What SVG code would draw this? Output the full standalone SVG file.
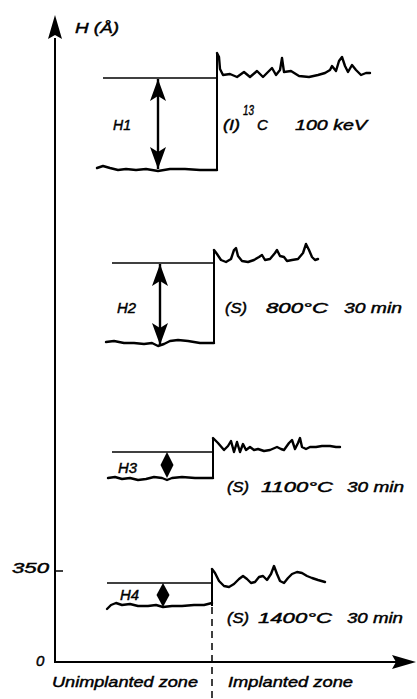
<svg xmlns="http://www.w3.org/2000/svg" width="417" height="699" viewBox="0 0 417 699">
<defs>
<marker id="dh" viewBox="0 0 22 16" refX="22" refY="8" markerWidth="22" markerHeight="16" markerUnits="userSpaceOnUse" orient="auto-start-reverse">
<path d="M0,0 L22,8 L0,16 L5,8 Z" fill="#000"/>
</marker>
</defs>
<style>
text{font-family:"Liberation Sans","DejaVu Sans",sans-serif;font-style:italic;font-size:15px;fill:#000;stroke:#000;stroke-width:0.45}
.thin{stroke:#000;stroke-width:1.3;fill:none}
.step{stroke:#000;stroke-width:2;fill:none}
.rough{stroke:#000;stroke-width:2.4;fill:none;stroke-linejoin:round;stroke-linecap:round}
.dim{stroke:#000;stroke-width:2.4;fill:none}
.diam{fill:#000}
</style>

<g id="axes">
<line x1="55" y1="663" x2="55" y2="38" stroke="#000" stroke-width="2"/>
<path d="M55,15 L62,39 L55,35 L48,39 Z" fill="#000"/>
<line x1="54" y1="662" x2="396" y2="662" stroke="#000" stroke-width="2"/>
<path d="M416,662 L392,655 L396,662 L392,669 Z" fill="#000"/>
<line x1="55" y1="571" x2="63" y2="571" stroke="#000" stroke-width="1.5"/>
<line x1="212" y1="607" x2="212" y2="699" stroke="#000" stroke-width="1.5" stroke-dasharray="7,5"/>
<text x="75" y="33" font-size="13" textLength="44" lengthAdjust="spacingAndGlyphs">H (Å)</text>
<text x="12" y="573" textLength="37" lengthAdjust="spacingAndGlyphs">350</text>
<text x="36" y="666">0</text>
<text x="52" y="687" textLength="146" lengthAdjust="spacingAndGlyphs">Unimplanted zone</text>
<text x="228" y="687" textLength="125" lengthAdjust="spacingAndGlyphs">Implanted zone</text>
</g>

<g id="profile-h1">
<line class="thin" x1="103" y1="78" x2="217" y2="78"/>
<path class="step" d="M217,170 L217,53"/>
<path class="rough" d="M217,53 L219,57 L220,69 L223,75 L230,74 L237,77 L244,72 L250,77 L257,71 L263,77 L268,72 L272,68 L276,75 L280,70 L282,58 L284,72 L291,71 L299,76 L309,77 L318,75 L325,73 L330,70 L332,66 L336,71 L339,61 L342,57 L345,66 L348,72 L352,65 L356,70 L361,75 L366,73 L370,73"/>
<path class="rough" d="M97,168 L103,166 L110,168 L118,170 L126,169 L136,170 L146,169 L158,171 L170,169 L185,169 L200,170 L217,170"/>
<line class="dim" x1="158" y1="79" x2="158" y2="169" marker-start="url(#dh)" marker-end="url(#dh)"/>
<text x="113" y="130" textLength="18" lengthAdjust="spacingAndGlyphs">H1</text>
<text x="223" y="130" textLength="17" lengthAdjust="spacingAndGlyphs">(I)</text>
<text x="243" y="115" font-size="10" textLength="11" lengthAdjust="spacingAndGlyphs">13</text>
<text x="257" y="130">C</text>
<text x="295" y="130" textLength="72" lengthAdjust="spacingAndGlyphs">100 keV</text>
</g>

<g id="profile-h2">
<line class="thin" x1="112" y1="263" x2="214" y2="263"/>
<path class="step" d="M214,343 L214,250"/>
<path class="rough" d="M214,250 L217,254 L221,260 L226,262 L231,259 L234,250 L236,248 L238,256 L242,261 L248,262 L254,260 L259,257 L262,255 L265,260 L270,259 L275,253 L277,250 L280,256 L284,257 L287,261 L292,260 L298,259 L303,253 L306,244 L309,250 L312,257 L315,260 L318,259"/>
<path class="rough" d="M106,342 L114,341 L124,343 L134,343 L144,344 L152,343 L158,346 L164,344 L170,341 L178,340 L188,341 L200,343 L214,343"/>
<line class="dim" x1="160" y1="264" x2="160" y2="345" marker-start="url(#dh)" marker-end="url(#dh)"/>
<text x="117" y="313" textLength="19" lengthAdjust="spacingAndGlyphs">H2</text>
<text x="225" y="313" textLength="22" lengthAdjust="spacingAndGlyphs">(S)</text>
<text x="266" y="313" textLength="62" lengthAdjust="spacingAndGlyphs">800°C</text>
<text x="344" y="313" textLength="58" lengthAdjust="spacingAndGlyphs">30 min</text>
</g>

<g id="profile-h3">
<line class="thin" x1="112" y1="452" x2="213" y2="452"/>
<path class="step" d="M213,478 L213,438"/>
<path class="rough" d="M213,438 L218,443 L224,450 L228,446 L231,441 L234,452 L237,442 L240,452 L243,444 L246,450 L250,447 L254,450 L258,449 L264,451 L270,450 L277,447 L281,449 L284,450 L289,443 L292,440 L295,449 L298,443 L300,438 L302,447 L306,449 L310,447 L316,447 L322,446 L330,446 L336,447 L340,447"/>
<path class="rough" d="M108,478 L115,477 L122,479 L130,478 L138,480 L146,479 L154,477 L162,478 L167,480 L172,478 L182,477 L195,478 L213,478"/>
<path class="diam" d="M167,452 L173.5,465 L167,478 L160.5,465 Z"/>
<text x="118" y="473" textLength="19" lengthAdjust="spacingAndGlyphs">H3</text>
<text x="227" y="492" textLength="22" lengthAdjust="spacingAndGlyphs">(S)</text>
<text x="261" y="492" textLength="72" lengthAdjust="spacingAndGlyphs">1100°C</text>
<text x="347" y="492" textLength="57" lengthAdjust="spacingAndGlyphs">30 min</text>
</g>

<g id="profile-h4">
<line class="thin" x1="107" y1="583" x2="212" y2="583"/>
<path class="step" d="M212,606 L212,569"/>
<path class="rough" d="M212,569 L215,573 L219,581 L224,586 L229,587 L234,584 L239,579 L243,576 L247,579 L251,583 L255,582 L259,577 L263,576 L267,580 L271,574 L274,566 L277,574 L280,581 L284,583 L288,578 L292,574 L297,572 L302,573 L307,576 L312,578 L318,580 L325,582"/>
<path class="rough" d="M107,609 L111,605 L116,603 L122,605 L130,604 L138,606 L148,606 L156,605 L163,607 L172,606 L182,606 L194,605 L204,605 L212,603"/>
<path class="diam" d="M163,583 L169.5,595 L163,607 L156.5,595 Z"/>
<text x="120" y="600" textLength="19" lengthAdjust="spacingAndGlyphs">H4</text>
<text x="227" y="623" textLength="22" lengthAdjust="spacingAndGlyphs">(S)</text>
<text x="258" y="623" textLength="74" lengthAdjust="spacingAndGlyphs">1400°C</text>
<text x="347" y="623" textLength="56" lengthAdjust="spacingAndGlyphs">30 min</text>
</g>
</svg>
